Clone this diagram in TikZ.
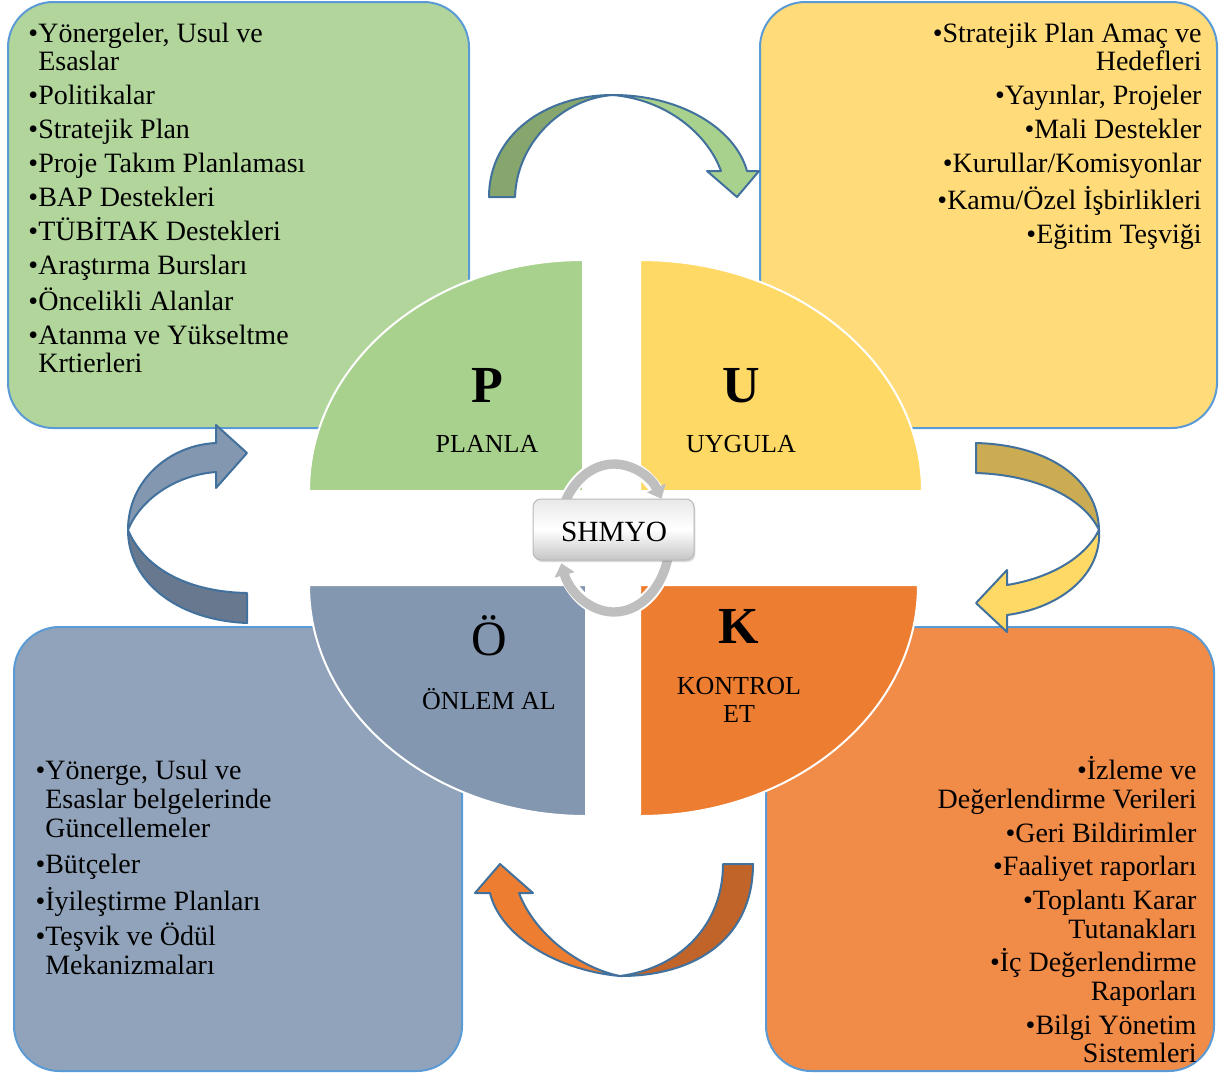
\documentclass[tikz,border=0pt]{standalone}
\usepackage{fontspec}
\setmainfont{Liberation Serif}
\usetikzlibrary{arrows.meta,shadows}

\definecolor{grnbox}{HTML}{B1D59B}
\definecolor{ylwbox}{HTML}{FFDB7A}
\definecolor{blubox}{HTML}{91A3BA}
\definecolor{orgbox}{HTML}{F08B48}
\definecolor{grnquad}{HTML}{A9D18E}
\definecolor{ylwquad}{HTML}{FFD966}
\definecolor{bluquad}{HTML}{8497B0}
\definecolor{orgquad}{HTML}{ED7D31}
\definecolor{grndark}{HTML}{86A66E}
\definecolor{ylwdark}{HTML}{CCAC52}
\definecolor{bludark}{HTML}{68788F}
\definecolor{orgdark}{HTML}{C0642A}
\definecolor{boxline}{HTML}{5B9BD5}
\definecolor{arrline}{HTML}{41719C}
\definecolor{ringgray}{HTML}{BFBFBF}

\tikzset{every picture/.style={line width=0.75pt}}

\begin{document}
\begin{tikzpicture}[x=0.75pt,y=0.75pt,yscale=-1,xscale=1,
  box/.style={draw=boxline,line width=1.5pt,rounded corners=34pt},
  quad/.style={draw=white,line width=1.5pt},
  ribbon/.style={draw=arrline,line width=1.5pt,line join=round},
  listtxt/.style={inner sep=0pt,font=\fontsize{21}{21}\selectfont},
  lowtxt/.style={inner sep=0pt,font=\fontsize{21}{21.6}\selectfont},
  bigltr/.style={inner sep=0pt,font=\fontsize{39}{39}\selectfont\bfseries},
  steptxt/.style={inner sep=0pt,font=\fontsize{19.5}{21}\selectfont,align=center}]
\useasboundingbox (0,0) rectangle (1219,1075);

%Shape: Rounded Rect [planla list]
\draw[box,fill=grnbox] (8,2) rectangle (469,428);
%Shape: Rounded Rect [uygula list]
\draw[box,fill=ylwbox] (760,2) rectangle (1217,428);
%Shape: Rounded Rect [onlem list]
\draw[box,fill=blubox] (14,627) rectangle (462,1071);
%Shape: Rounded Rect [kontrol list]
\draw[box,fill=orgbox] (766,627) rectangle (1214,1071);

%Curved Arrow [top]
\draw[ribbon,fill=grndark] (489,197) .. controls (489,135) and (545,95) .. (613,95) .. controls (565,98) and (517,140) .. (515,197) -- cycle ;
\draw[ribbon,fill=grnquad] (613,95) .. controls (680,95) and (735,128) .. (747,171) -- (759,171) -- (737,197) -- (707,171) -- (721,171) .. controls (708,135) and (668,100) .. (613,95) -- cycle ;
%Curved Arrow [right]
\draw[ribbon,fill=ylwdark] (976,443) .. controls (1050,445) and (1098,480) .. (1099,530) .. controls (1085,500) and (1040,475) .. (976,473) -- cycle ;
\draw[ribbon,fill=ylwquad] (1099,530) .. controls (1102,575) and (1060,608) .. (1007,615) -- (1007,632) -- (976,603) -- (1007,570) -- (1007,585) .. controls (1050,578) and (1085,558) .. (1099,530) -- cycle ;
%Curved Arrow [bottom]
\draw[ribbon,fill=orgdark] (753,864) .. controls (753,935) and (700,976) .. (620,976) .. controls (680,968) and (723,925) .. (723,864) -- cycle ;
\draw[ribbon,fill=orgquad] (620,976) .. controls (555,970) and (500,935) .. (490,893) -- (475,893) -- (500,864) -- (533,893) -- (519,893) .. controls (535,935) and (580,968) .. (620,976) -- cycle ;
%Curved Arrow [left]
\draw[ribbon,fill=bludark] (247,623) .. controls (175,620) and (128,580) .. (128,530) .. controls (145,570) and (190,592) .. (247,593) -- cycle ;
\draw[ribbon,fill=bluquad] (128,530) .. controls (128,480) and (170,445) .. (216,443) -- (216,425) -- (247,453) -- (216,488) -- (216,472) .. controls (175,475) and (140,500) .. (128,530) -- cycle ;

%Shape: Quarter Ellipses
\draw[quad,fill=grnquad] (583,491) -- (309,491) arc[start angle=180,end angle=270,x radius=274,y radius=231] -- cycle ;
\draw[quad,fill=ylwquad] (640,491) -- (640,260) arc[start angle=270,end angle=360,x radius=282,y radius=231] -- cycle ;
\draw[quad,fill=orgquad] (640,585) -- (918,585) arc[start angle=0,end angle=90,x radius=278,y radius=231] -- cycle ;
\draw[quad,fill=bluquad] (586,585) -- (586,816) arc[start angle=90,end angle=180,x radius=277,y radius=231] -- cycle ;

%Circular Arrows [ring]
\draw[white,line width=10pt] (558,538) arc[start angle=180,end angle=322,x radius=56,y radius=74] ;
\draw[white,line width=10pt] (670,538) arc[start angle=0,end angle=152,x radius=56,y radius=74] ;
\draw[ringgray,line width=7pt,-{Triangle[width=15pt,length=9pt]}] (558,538) arc[start angle=180,end angle=328,x radius=56,y radius=74] ;
\draw[ringgray,line width=7pt,-{Triangle[width=15pt,length=9pt]}] (670,538) arc[start angle=0,end angle=160,x radius=56,y radius=74] ;

%Shape: Rounded Rect [centre]
\draw[draw=gray!55,rounded corners=6pt,top color=gray!18,bottom color=gray!45,middle color=white,drop shadow={opacity=0.3,shadow xshift=1pt,shadow yshift=-1.5pt}] (533,499) rectangle (694,560);

% Text Node
\node[inner sep=0pt,font=\fontsize{22}{22}\selectfont,anchor=base] (shmyo) at (614,541) {SHMYO};

% Text Node
\node[bigltr,anchor=base] (ltrP) at (487,402) {P};
\node[steptxt,anchor=base] (planla) at (487,452) {PLANLA};
% Text Node
\node[bigltr,anchor=base] (ltrU) at (741,402) {U};
\node[steptxt,anchor=base] (uygula) at (741,452) {UYGULA};
% Text Node
\node[bigltr,anchor=base,font=\fontsize{37}{37}\selectfont] (ltrO) at (489,655) {Ö};
\node[steptxt,anchor=base] (onlem) at (489,709) {ÖNLEM AL};
% Text Node
\node[bigltr,anchor=base] (ltrK) at (739,643) {K};
\node[steptxt,anchor=north] (kontrol) at (739,677) {KONTROL\\ET};

% Text Node
\node[listtxt,anchor=north west,align=left] (planlist) at (28,23) {%
\textbullet Yönergeler, Usul ve\\
\phantom{\textbullet}Esaslar\\[4.5pt]
\textbullet Politikalar\\[4.5pt]
\textbullet Stratejik Plan\\[4.5pt]
\textbullet Proje Takım Planlaması\\[4.5pt]
\textbullet BAP Destekleri\\[4.5pt]
\textbullet TÜBİTAK Destekleri\\[4.5pt]
\textbullet Araştırma Bursları\\[4.5pt]
\textbullet Öncelikli Alanlar\\[4.5pt]
\textbullet Atanma ve Yükseltme\\
\phantom{\textbullet}Krtierleri};
% Text Node
\node[listtxt,anchor=north east,align=right] (uygulist) at (1202,23) {%
\textbullet Stratejik Plan Amaç ve\\
Hedefleri\\[4.5pt]
\textbullet Yayınlar, Projeler\\[4.5pt]
\textbullet Mali Destekler\\[4.5pt]
\textbullet Kurullar/Komisyonlar\\[4.5pt]
\textbullet Kamu/Özel İşbirlikleri\\[4.5pt]
\textbullet Eğitim Teşviği};
% Text Node
\node[lowtxt,anchor=north west,align=left] (onlemlist) at (35,760) {%
\textbullet Yönerge, Usul ve\\
\phantom{\textbullet}Esaslar belgelerinde\\
\phantom{\textbullet}Güncellemeler\\[5pt]
\textbullet Bütçeler\\[5pt]
\textbullet İyileştirme Planları\\[5pt]
\textbullet Teşvik ve Ödül\\
\phantom{\textbullet}Mekanizmaları};
% Text Node
\node[lowtxt,anchor=north east,align=right] (kontlist) at (1197,756) {%
\textbullet İzleme ve\\
Değerlendirme Verileri\\[3.6pt]
\textbullet Geri Bildirimler\\[3.6pt]
\textbullet Faaliyet raporları\\[3.6pt]
\textbullet Toplantı Karar\\
Tutanakları\\[3.6pt]
\textbullet İç Değerlendirme\\
Raporları\\[3.6pt]
\textbullet Bilgi Yönetim\\
Sistemleri};

\end{tikzpicture}
\end{document}
